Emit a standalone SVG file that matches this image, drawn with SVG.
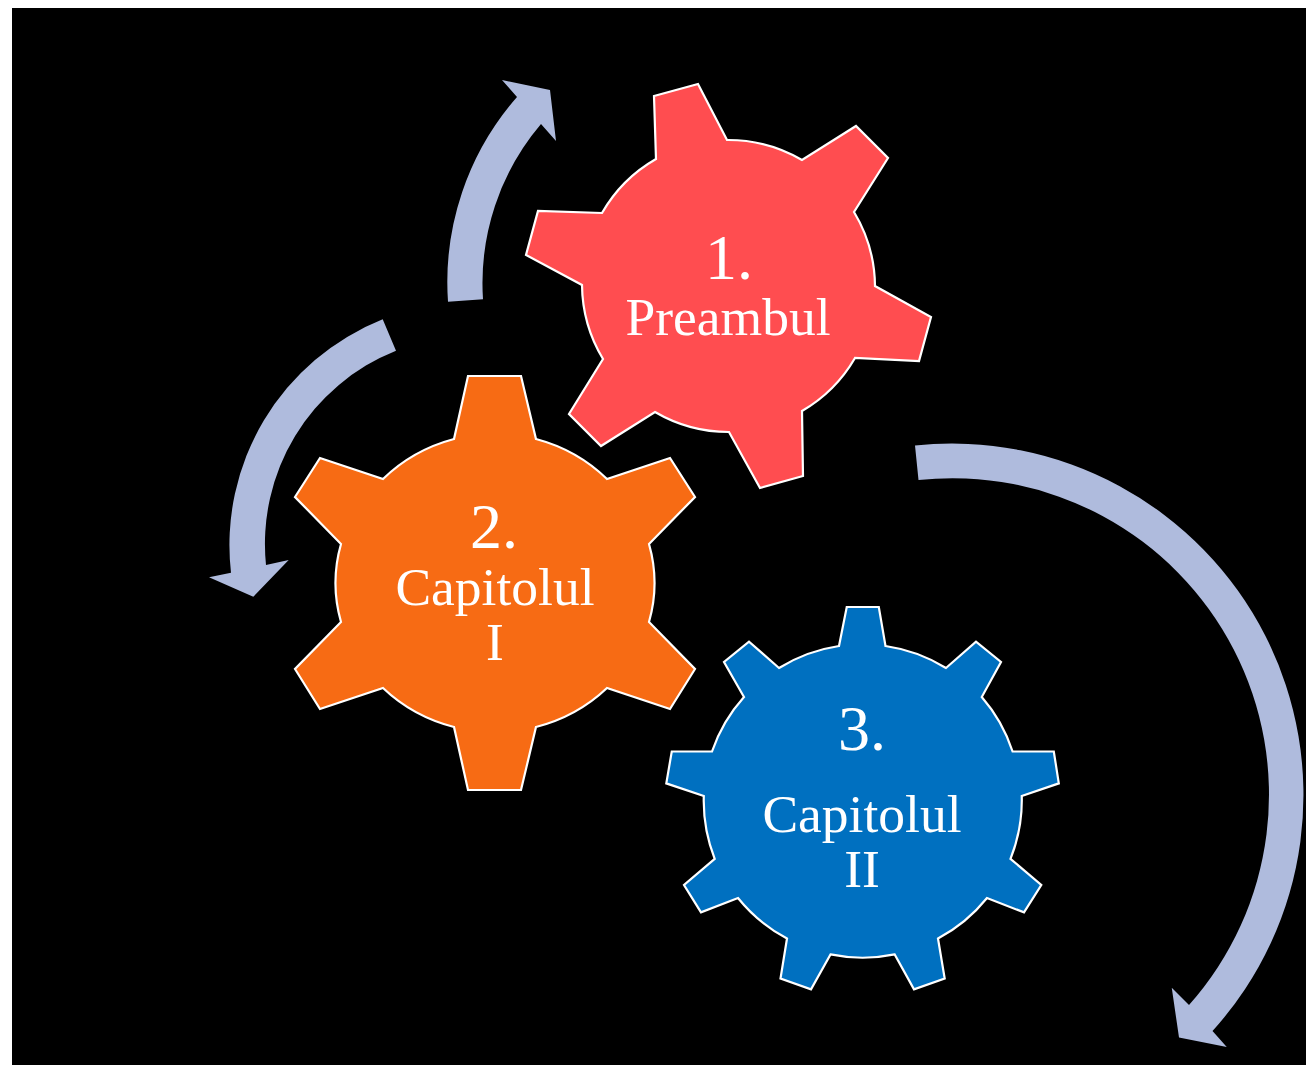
<svg xmlns="http://www.w3.org/2000/svg" width="1306" height="1065" viewBox="0 0 1306 1065">
<style>
.gear{stroke:#fff;stroke-width:2.2;stroke-linejoin:miter}
.arrow{fill:#AFBBDD;stroke:none}
text{font-family:"Liberation Serif","Times New Roman",serif;fill:#fff;text-anchor:middle}
.num{font-size:64px}
.lbl{font-size:53.5px}
</style>
<rect width="1306" height="1065" fill="#fff"/>
<rect x="12" y="8" width="1294" height="1057" fill="#000"/>
<g id="connectors">
<path class="arrow" d="M448 301.7A281 281 0 0 1 517 97L502 80L550 90L556 141L541 124A246 246 0 0 0 483 299.3Z"/>
<path class="arrow" d="M382.7 319.3A243 243 0 0 0 231 572.7L209 577.3L253.3 596.7L288.7 560L266 565A208 208 0 0 1 396 350.7Z"/>
<path class="arrow" d="M915 445.5A351.5 351.5 0 0 1 1212.5 1031L1226.75 1047L1179 1037.6L1171.75 987.7L1189 1005A316.5 316.5 0 0 0 918.5 480Z"/>
</g>
<g id="node-1">
<path class="gear" fill="#FF4D50" d="M654 96L698 84L727 140A146 146 0 0 1 802 160L856 126L888 158L854 212A146 146 0 0 1 875 286L931 317L919 361L855 358A146 146 0 0 1 802 411L803 476L760 488L729 432A146 146 0 0 1 655 412L601 446L569 414L603 359A146 146 0 0 1 582 285L526 255L538 211L602 213A146 146 0 0 1 656 159Z"/>
<text class="num" x="729" y="279">1.</text>
<text class="lbl" x="728" y="335">Preambul</text>
</g>
<g id="node-2">
<path class="gear" fill="#F76B14" d="M468 376L521 376L536 439A159 150 0 0 1 607 479L670 458L695 497L649 544A159 150 0 0 1 649 622L695 669L670 709L607 688A159 150 0 0 1 536 727L521 790L468 790L454 727A159 150 0 0 1 383 688L320 709L295 669L341 622A159 150 0 0 1 341 544L295 497L320 458L383 479A159 150 0 0 1 454 439Z"/>
<text class="num" x="494" y="548">2.</text>
<text class="lbl" x="495" y="605">Capitolul</text>
<text class="lbl" x="495" y="660">I</text>
</g>
<g id="node-3">
<path class="gear" fill="#0070C0" d="M846.75 607L878.8 607L885.5 646A158 158 0 0 1 946 668L976 641.6L1001 662L981.75 697A158 158 0 0 1 1012.6 751.5L1053.8 751.5L1058.8 783.4L1021.75 796A158 158 0 0 1 1010.5 858.8L1041.3 885L1024 912.4L987 898A158 158 0 0 1 938 938.5L944.7 978.5L914 989.4L894.7 954.4A158 158 0 0 1 830.5 954.4L811 989.4L780.5 978.5L787 938.5A158 158 0 0 1 738 898L701 912.4L684 885L714.7 858.8A158 158 0 0 1 703.8 796L666.3 783.4L671.75 751.5L712 751.5A158 158 0 0 1 744 697L724 662L749 641.6L779 668A158 158 0 0 1 839 646Z"/>
<text class="num" x="862" y="750">3.</text>
<text class="lbl" x="862" y="832">Capitolul</text>
<text class="lbl" x="862" y="887">II</text>
</g>
</svg>
